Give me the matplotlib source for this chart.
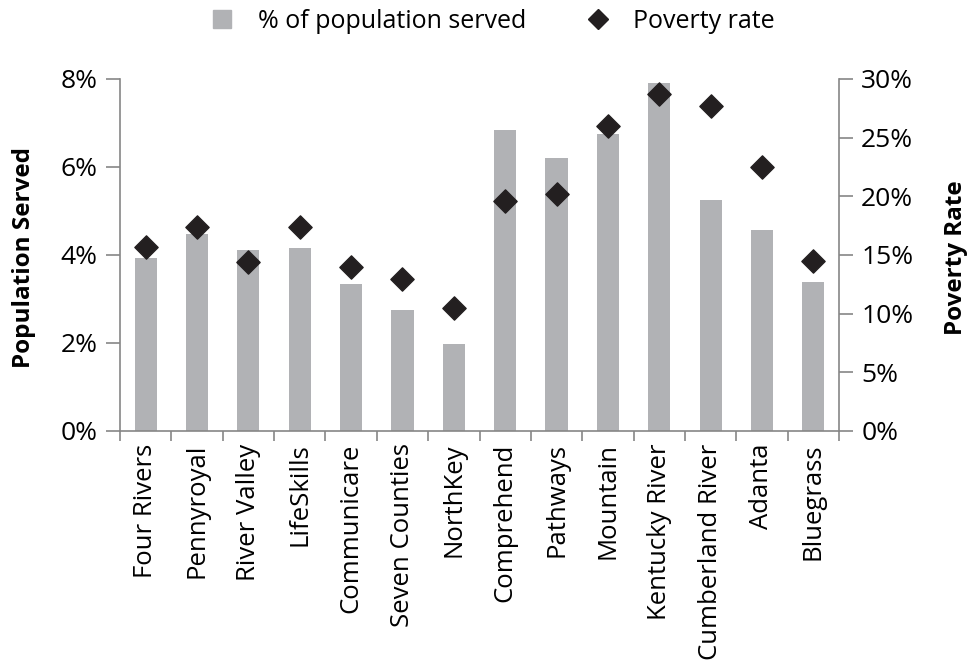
import numpy as np
import matplotlib
matplotlib.use("Agg")
import matplotlib.pyplot as plt
from matplotlib.ticker import PercentFormatter
from matplotlib.lines import Line2D
from matplotlib.patches import Patch

plt.rcParams['font.family'] = ['Open Sans', 'DejaVu Sans']

CENTERS = ["Four Rivers", "Pennyroyal", "River Valley", "LifeSkills",
           "Communicare", "Seven Counties", "NorthKey", "Comprehend",
           "Pathways", "Mountain", "Kentucky River", "Cumberland River",
           "Adanta", "Bluegrass"]
SERVED = [3.93, 4.48, 4.12, 4.15, 3.33, 2.75, 1.97, 6.84, 6.20, 6.76,
          7.90, 5.25, 4.57, 3.39]
POVERTY = [15.7, 17.4, 14.4, 17.4, 13.95, 12.95, 10.5, 19.6, 20.2, 25.95,
           28.7, 27.7, 22.5, 14.5]

BAR = "#b1b2b5"
AXIS = "#868686"
INK = "#231f20"

fig = plt.figure(figsize=(9.74, 6.63), dpi=100)
ax = fig.add_axes([0.1232, 0.35, 0.7382, 0.5309])
ax2 = ax.twinx()

x = np.arange(len(CENTERS))
ax.bar(x, SERVED, width=0.43, color=BAR, zorder=2)
ax2.scatter(x, POVERTY, marker="D", s=140, color=INK, zorder=3)

ax.set_xlim(-0.5, len(CENTERS) - 0.5)
ax.set_ylim(0, 8)
ax.set_yticks([0, 2, 4, 6, 8])
ax.yaxis.set_major_formatter(PercentFormatter(decimals=0))
ax2.set_ylim(0, 30)
ax2.set_yticks([0, 5, 10, 15, 20, 25, 30])
ax2.yaxis.set_major_formatter(PercentFormatter(decimals=0))

# category boundaries carry the ticks, names sit between them
ax.set_xticks(np.arange(-0.5, len(CENTERS)), minor=False)
ax.set_xticklabels([])
ax.set_xticks(x, minor=True)
ax.set_xticklabels(CENTERS, minor=True, rotation=90, fontsize=18.5)
ax.tick_params(axis="x", which="major", direction="out", length=7,
               color=AXIS, width=1.2)
ax.tick_params(axis="x", which="minor", length=0, pad=9)

for a in (ax, ax2):
    a.tick_params(axis="y", direction="out", length=10, color=AXIS,
                  width=1.2, labelsize=19, pad=6)
    for s in a.spines.values():
        s.set_color(AXIS)
        s.set_linewidth(1.2)
    a.spines["top"].set_visible(False)
ax.spines["right"].set_visible(False)
ax2.spines["left"].set_visible(False)
ax2.spines["bottom"].set_visible(False)

fig.text(0.025, 0.612, "Population Served", rotation=90, ha="center",
         va="center", fontsize=17.5, fontweight="bold")
fig.text(0.982, 0.612, "Poverty Rate", rotation=90, ha="center",
         va="center", fontsize=17.5, fontweight="bold")

handles = [Patch(color=BAR),
           Line2D([], [], marker="D", color=INK, linestyle="none",
                  markersize=10)]
fig.legend(handles, ["% of population served", "Poverty rate"],
           loc="center", bbox_to_anchor=(0.507, 0.968), ncol=2,
           frameon=False, fontsize=18, handlelength=0.75,
           handleheight=0.75, columnspacing=2.5, handletextpad=1.05)

fig.savefig("out.png", dpi=100)
